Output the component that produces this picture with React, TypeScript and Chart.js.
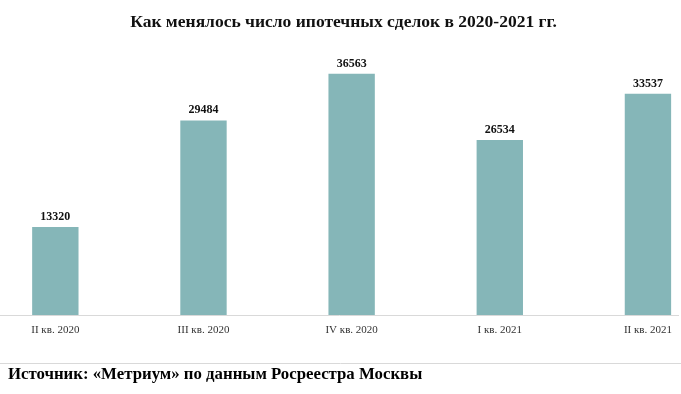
import React, { useEffect, useRef } from "react";
import { Chart, registerables } from "chart.js";

Chart.register(...registerables);

const titleText = "Как менялось число ипотечных сделок в 2020-2021 гг.";
const sourceText = "Источник: «Метриум» по данным Росреестра Москвы";
const categories = ["II кв. 2020", "III кв. 2020", "IV кв. 2020", "I кв. 2021", "II кв. 2021"];
const deals = [13320, 29484, 36563, 26534, 33537];

const SERIF = '"Liberation Serif", "Times New Roman", serif';

const decorPlugin = {
  id: "decor",
  afterDraw(chart: any) {
    const ctx = chart.ctx;
    ctx.save();
    // title
    ctx.fillStyle = "#111";
    ctx.font = `bold 17.5px ${SERIF}`;
    ctx.textAlign = "center";
    ctx.textBaseline = "middle";
    ctx.fillText(titleText, 343.5, 22);
    // value labels
    const meta = chart.getDatasetMeta(0);
    ctx.font = `bold 12px ${SERIF}`;
    ctx.fillStyle = "#111";
    meta.data.forEach((bar: any, i: number) => {
      ctx.fillText(String(deals[i]), bar.x, bar.y - 10);
    });
    // separator
    ctx.strokeStyle = "#d9d9d9";
    ctx.lineWidth = 1;
    ctx.beginPath();
    ctx.moveTo(0, 363.5);
    ctx.lineTo(chart.width, 363.5);
    ctx.stroke();
    // source
    ctx.fillStyle = "#000";
    ctx.font = `bold 16.8px ${SERIF}`;
    ctx.textAlign = "left";
    ctx.fillText(sourceText, 8, 375);
    ctx.restore();
  },
};

export default function App() {
  const ref = useRef<HTMLCanvasElement | null>(null);
  useEffect(() => {
    if (!ref.current) return;
    const chart = new Chart(ref.current, {
      type: "bar",
      data: {
        datasets: [
          {
            data: deals.map((v, i) => ({ x: i, y: v })),
            backgroundColor: "#85b6b8",
            borderWidth: 0,
            barPercentage: 0.313,
            categoryPercentage: 1,
          },
        ],
      },
      plugins: [decorPlugin],
      options: {
        animation: false,
        responsive: false,
        maintainAspectRatio: false,
        layout: { padding: { top: 51, bottom: 55, left: 0, right: 0 } },
        plugins: { legend: { display: false }, tooltip: { enabled: false }, title: { display: false } },
        scales: {
          x: {
            type: "linear",
            offset: false,
            min: -0.3735,
            max: 4.2086,
            grid: { display: false, drawTicks: false, offset: false },
            border: { display: true, color: "#d9d9d9", width: 1 },
            afterFit: (scale: any) => {
              scale.height = 24;
            },
            afterBuildTicks: (scale: any) => {
              scale.ticks = categories.map((_, i) => ({ value: i }));
            },
            ticks: {
              autoSkip: false,
              maxRotation: 0,
              padding: 9,
              color: "#333",
              font: { family: SERIF, size: 11 },
              callback: (v: any) => categories[v as number] ?? "",
            },
          },
          y: { display: false, min: 0, max: 40000 },
        },
      },
    });
    return () => chart.destroy();
  }, []);
  return (
    <div style={{ position: "absolute", left: 0, top: 0, width: 681, height: 394, background: "#fff" }}>
      <canvas ref={ref} width={681} height={394} style={{ display: "block", width: 681, height: 394 }} />
    </div>
  );
}
